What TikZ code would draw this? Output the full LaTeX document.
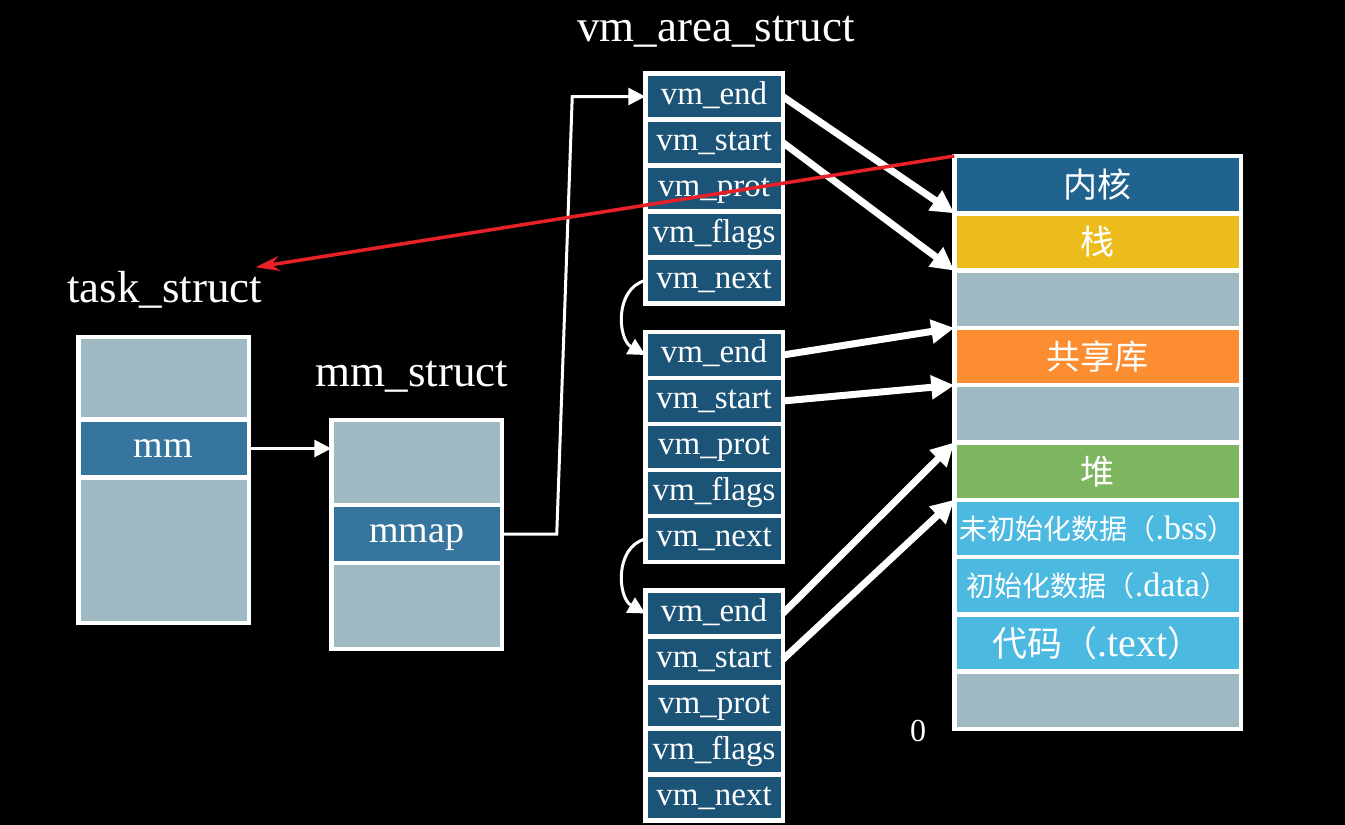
\documentclass[tikz,border=0pt]{standalone}
\usepackage{fontspec}
\setmainfont{Liberation Serif}
\newfontfamily\cjk{Noto Sans CJK SC}
\usetikzlibrary{positioning, arrows.meta, calc}
\definecolor{vmblue}{RGB}{28,84,120}
\definecolor{mmblue}{RGB}{54,118,158}
\definecolor{cellgray}{RGB}{158,185,194}
\definecolor{kernblue}{RGB}{31,99,142}
\definecolor{stackyellow}{RGB}{236,188,28}
\definecolor{liborange}{RGB}{252,141,48}
\definecolor{heapgreen}{RGB}{126,182,96}
\definecolor{segblue}{RGB}{76,185,224}
\definecolor{annotred}{RGB}{232,32,40}

\begin{document}
\begin{tikzpicture}[x=1pt, y=-1pt,
    cell/.style={draw=white, line width=4.5pt, rectangle, outer sep=0pt, inner sep=0pt, text=white},
    vmcell/.style={cell, fill=vmblue, minimum width=137.5pt, minimum height=46pt, font=\fontsize{33}{37}\selectfont, text height=22pt, text depth=7pt},
    memcell/.style={cell, minimum width=286.5pt, minimum height=57.3pt, font=\fontsize{34}{40}\selectfont, text height=26pt, text depth=0pt},
    structcell/.style={cell, fill=cellgray, minimum width=170.5pt, font=\fontsize{38}{42}\selectfont, text height=24pt, text depth=7pt},
    structlabel/.style={text=white, anchor=base, font=\fontsize{45}{50}\selectfont},
    bigarrow/.style={white, line width=7pt, -{Triangle[length=23pt, width=23pt]}},
    smallarrow/.style={white, line width=3pt, -{Triangle[length=17pt, width=17pt]}}]

        \useasboundingbox (0,0) rectangle (1345,825);
        \fill[black] (0,0) rectangle (1345,825);

        \node[structcell, minimum height=82.5pt] (T1) at (163.5, 378.25) {};
        \node[structcell, fill=mmblue, minimum height=58pt, below=0pt of T1] (mm) {mm};
        \node[structcell, minimum height=145.5pt, below=0pt of mm] (T3) {};
        \node[structlabel] (tasklabel) at (164.5, 302) {task\_struct};

        \node[structcell, minimum height=85pt] (M1) at (416.5, 462.5) {};
        \node[structcell, fill=mmblue, minimum height=58pt, below=0pt of M1] (mmap) {mmap};
        \node[structcell, minimum height=86pt, below=0pt of mmap] (M3) {};
        \node[structlabel] (mmlabel) at (412, 386) {mm\_struct};

        \node[vmcell] (b1end) at (714, 96.5) {vm\_end};
        \node[vmcell, below=0pt of b1end] (b1start) {vm\_start};
        \node[vmcell, below=0pt of b1start] (b1prot) {vm\_prot};
        \node[vmcell, below=0pt of b1prot] (b1flags) {vm\_flags};
        \node[vmcell, below=0pt of b1flags] (b1next) {vm\_next};
        \node[structlabel] (vmlabel) at (716, 41) {vm\_area\_struct};

        \node[vmcell] (b2end) at (714, 355) {vm\_end};
        \node[vmcell, below=0pt of b2end] (b2start) {vm\_start};
        \node[vmcell, below=0pt of b2start] (b2prot) {vm\_prot};
        \node[vmcell, below=0pt of b2prot] (b2flags) {vm\_flags};
        \node[vmcell, below=0pt of b2flags] (b2next) {vm\_next};

        \node[vmcell] (b3end) at (714, 613.5) {vm\_end};
        \node[vmcell, below=0pt of b3end] (b3start) {vm\_start};
        \node[vmcell, below=0pt of b3start] (b3prot) {vm\_prot};
        \node[vmcell, below=0pt of b3prot] (b3flags) {vm\_flags};
        \node[vmcell, below=0pt of b3flags] (b3next) {vm\_next};

        \node[memcell, fill=kernblue] (kern) at (1097.5, 184.65) {\cjk 内核};
        \node[memcell, fill=stackyellow, below=0pt of kern] (stack) {\cjk 栈};
        \node[memcell, fill=cellgray, below=0pt of stack] (gap1) {};
        \node[memcell, fill=liborange, below=0pt of gap1] (lib) {\cjk 共享库};
        \node[memcell, fill=cellgray, below=0pt of lib] (gap2) {};
        \node[memcell, fill=heapgreen, below=0pt of gap2] (heap) {\cjk 堆};
        \node[memcell, fill=segblue, below=0pt of heap, text height=22pt] (bss) {{\cjk\fontsize{28}{32}\selectfont 未初始化数据（}.bss{\cjk\fontsize{28}{32}\selectfont ）}};
        \node[memcell, fill=segblue, below=0pt of bss, text height=22pt] (data) {{\cjk\fontsize{28}{32}\selectfont 初始化数据（}.data{\cjk\fontsize{28}{32}\selectfont ）}};
        \node[memcell, fill=segblue, below=0pt of data, font=\fontsize{40}{44}\selectfont] (code) {{\cjk\fontsize{35}{40}\selectfont 代码（}.text{\cjk\fontsize{35}{40}\selectfont ）}};
        \node[memcell, fill=cellgray, below=0pt of code] (gap3) {};
        \node[text=white, font=\fontsize{32}{36}\selectfont] (zero) at (918, 731) {0};

        \draw[smallarrow] (mm.east) -- (mm.east -| M1.west);
        \draw[smallarrow] (mmap.east) -- ++(55,0) -- ([xshift=-73pt]b1end.west) -- (b1end.west);
        \draw[smallarrow] (b1next.west) to[out=195, in=150, looseness=1.1] (b2end.west);
        \draw[smallarrow] (b2next.west) to[out=195, in=150, looseness=1.1] (b3end.west);

        \draw[bigarrow] (b1end.east) -- (kern.south west);
        \draw[bigarrow] (b1start.east) -- (stack.south west);
        \draw[bigarrow] (b2end.east) -- (gap1.south west);
        \draw[bigarrow] (b2start.east) -- (lib.south west);
        \draw[bigarrow] (b3end.east) -- (gap2.south west);
        \draw[bigarrow] (b3start.east) -- (heap.south west);

        \draw[annotred, line width=3.5pt, -{Stealth[length=24pt, width=15pt]}] (kern.north west) -- ([xshift=-10pt]tasklabel.north east);

    \end{tikzpicture}
\end{document}
